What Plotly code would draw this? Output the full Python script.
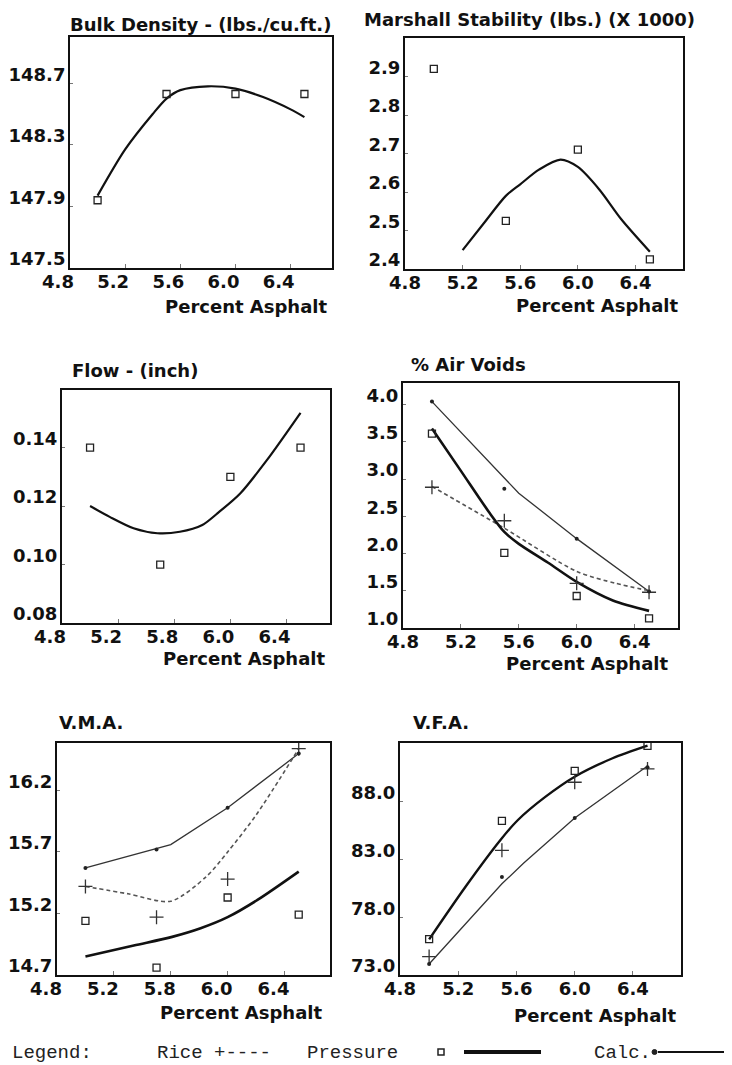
import plotly.graph_objects as go

# The page adds an 8px body margin, so the figure is drawn 8px smaller and
# positions below are given in page pixels, then converted.
OFF = 8
W, H = 732 - OFF, 1065 - OFF


def fx(px):
    return (px - OFF) / W


def fy(py):
    return 1 - (py - OFF) / H


# ---------------- data ----------------
pct = [5.0, 5.5, 6.0, 6.5]

x_ticks = [4.8, 5.2, 5.6, 6.0, 6.4]
x_labels = ["4.8", "5.2", "5.6", "6.0", "6.4"]
x_labels_alt = ["4.8", "5.2", "5.8", "6.0", "6.4"]

# Bulk density
bulk_ticks = [147.5, 147.9, 148.3, 148.7]
bulk_pts = [147.94, 148.63, 148.63, 148.63]
bulk_fit_x = [5.0, 5.2, 5.4, 5.5, 5.6, 5.8, 6.0, 6.2, 6.4, 6.5]
bulk_fit_y = [147.97, 148.27, 148.50, 148.60, 148.655, 148.68, 148.665, 148.61, 148.53, 148.48]

# Marshall stability
stab_ticks = [2.4, 2.5, 2.6, 2.7, 2.8, 2.9]
stab_pts = [2.92, 2.525, 2.71, 2.425]
stab_fit_x = [5.2, 5.35, 5.5, 5.6, 5.73, 5.88, 6.0, 6.15, 6.3, 6.5]
stab_fit_y = [2.449, 2.52, 2.59, 2.62, 2.658, 2.684, 2.665, 2.606, 2.53, 2.445]

# Flow
flow_ticks = [0.08, 0.10, 0.12, 0.14]
flow_labels = ["0.08", "0.10", "0.12", "0.14"]
flow_pts = [0.14, 0.10, 0.13, 0.14]
flow_fit_x = [5.0, 5.14, 5.31, 5.48, 5.64, 5.8, 5.92, 6.07, 6.26, 6.5]
flow_fit_y = [0.120, 0.1163, 0.1124, 0.1107, 0.1112, 0.1135, 0.118, 0.1243, 0.1357, 0.1519]

# Air voids
av_ticks = [1.0, 1.5, 2.0, 2.5, 3.0, 3.5, 4.0]
av_labels = ["1.0", "1.5", "2.0", "2.5", "3.0", "3.5", "4.0"]
av_pressure = [3.61, 2.01, 1.43, 1.13]
av_rice = [2.89, 2.44, 1.60, 1.48]
av_calc = [4.04, 2.87, 2.20, 1.49]
av_pres_fit_x = [5.0, 5.2, 5.4, 5.5, 5.6, 5.8, 6.0, 6.25, 6.5]
av_pres_fit_y = [3.68, 3.11, 2.54, 2.29, 2.13, 1.88, 1.62, 1.37, 1.23]
av_rice_fit_x = [5.0, 5.5, 6.0, 6.27, 6.5]
av_rice_fit_y = [2.90, 2.34, 1.76, 1.60, 1.50]
av_calc_fit_x = [5.0, 5.6, 6.0, 6.5]
av_calc_fit_y = [4.04, 2.81, 2.20, 1.49]

# V.M.A.
vma_ticks = [14.7, 15.2, 15.7, 16.2]
vma_pressure = [15.14, 14.76, 15.33, 15.19]
vma_rice = [15.42, 15.17, 15.48, 16.54]
vma_calc = [15.57, 15.72, 16.06, 16.50]
vma_pres_fit_x = [5.0, 5.34, 5.61, 5.81, 6.0, 6.21, 6.5]
vma_pres_fit_y = [14.85, 14.94, 15.01, 15.08, 15.17, 15.31, 15.54]
vma_rice_fit_x = [5.0, 5.3, 5.6, 5.85, 6.0, 6.2, 6.5]
vma_rice_fit_y = [15.42, 15.36, 15.30, 15.50, 15.70, 16.00, 16.54]
vma_calc_fit_x = [5.0, 5.6, 6.0, 6.5]
vma_calc_fit_y = [15.57, 15.76, 16.06, 16.50]

# V.F.A.
vfa_ticks = [73.0, 78.0, 83.0, 88.0]
vfa_labels = ["73.0", "78.0", "83.0", "88.0"]
vfa_pressure = [76.1, 86.35, 90.68, 92.85]
vfa_rice = [74.6, 83.8, 89.7, 90.85]
vfa_calc = [73.95, 81.5, 86.6, 91.0]
vfa_pres_fit_x = [5.0, 5.25, 5.49, 5.61, 5.8, 6.0, 6.26, 6.5]
vfa_pres_fit_y = [76.09, 80.65, 84.7, 86.43, 88.45, 90.18, 91.78, 92.87]
vfa_calc_fit_x = [5.0, 5.5, 5.65, 6.0, 6.5]
vfa_calc_fit_y = [73.95, 80.9, 82.7, 86.6, 91.1]

titles = ["Bulk Density - (lbs./cu.ft.)", "Marshall Stability (lbs.) (X 1000)",
          "Flow - (inch)", "% Air Voids", "V.M.A.", "V.F.A."]
x_title = "Percent Asphalt"

# ---------------- styling ----------------
BOLD = dict(family="DejaVu Sans", size=18, color="#111", weight="bold")
MONO = dict(family="Liberation Mono", size=19, color="#222")
INK = "#111"

SQ = dict(symbol="square-open", size=7, color="#222", line=dict(width=1.3, color="#222"))
PLUS = dict(symbol="cross-thin-open", size=10, color="#333", line=dict(width=1.3, color="#333"))
DOT = dict(symbol="circle", size=4, color="#222")

# panel pixel boxes (page pixels): (left, right, top, bottom)
panels = [
    dict(box=(70, 332, 37, 268), xr=6.70, yr=[147.5, 149.0], yt=bulk_ticks,
         yl=[f"{v:.1f}" for v in bulk_ticks], xl=x_labels, xshift=-12),
    dict(box=(405, 683, 38, 269), xr=6.73, yr=[2.4, 3.0], yt=stab_ticks,
         yl=[f"{v:.1f}" for v in stab_ticks], xl=x_labels, xshift=0),
    dict(box=(62, 330, 390, 623), xr=6.71, yr=[0.08, 0.1597], yt=flow_ticks,
         yl=flow_labels, xl=x_labels_alt, xshift=-12),
    dict(box=(403, 678, 383, 628), xr=6.70, yr=[1.0, 4.29], yt=av_ticks,
         yl=av_labels, xl=x_labels, xshift=0),
    dict(box=(57, 330, 743, 975), xr=6.72, yr=[14.7, 16.586], yt=vma_ticks,
         yl=[f"{v:.1f}" for v in vma_ticks], xl=x_labels_alt, xshift=-11),
    dict(box=(400, 681, 743, 975), xr=6.73, yr=[73.0, 93.1], yt=vfa_ticks,
         yl=vfa_labels, xl=x_labels, xshift=0),
]

fig = go.Figure()
layout = dict(width=W, height=H, margin=dict(l=0, r=0, t=0, b=0, pad=0),
              paper_bgcolor="white", plot_bgcolor="white", showlegend=False)

for i, p in enumerate(panels):
    n = "" if i == 0 else str(i + 1)
    l, r, t, b = p["box"]
    layout["xaxis" + n] = dict(
        domain=[fx(l), fx(r)], range=[4.8, p["xr"]], anchor="y" + n,
        tickvals=x_ticks, ticktext=p["xl"], showline=True, mirror=True,
        linewidth=2, linecolor=INK, ticks="inside", ticklen=4, tickwidth=1,
        tickcolor="#777", showgrid=False, zeroline=False, tickfont=BOLD,
        ticklabelshift=p["xshift"], ticklabelstandoff=-4, automargin=False)
    layout["yaxis" + n] = dict(
        domain=[fy(b), fy(t)], range=p["yr"], anchor="x" + n,
        tickvals=p["yt"], ticktext=p["yl"], showline=True, mirror=True,
        linewidth=2, linecolor=INK, ticks="inside", ticklen=3, tickwidth=1,
        tickcolor="#777", showgrid=False, zeroline=False, tickfont=BOLD,
        ticklabelshift=-9, ticklabelstandoff=-1, automargin=False)


def ln(x, y, ax, width, color=INK, shape="spline", dash=None):
    fig.add_trace(go.Scatter(x=x, y=y, mode="lines", xaxis="x" + ax, yaxis="y" + ax,
                             line=dict(width=width, color=color, shape=shape,
                                       smoothing=0.8 if shape == "spline" else None,
                                       dash=dash),
                             hoverinfo="skip"))


def mk(x, y, ax, marker):
    fig.add_trace(go.Scatter(x=x, y=y, mode="markers", xaxis="x" + ax, yaxis="y" + ax,
                             marker=marker, hoverinfo="skip"))


RICE_DASH = "4px,3px"

# Panel 1
ln(bulk_fit_x, bulk_fit_y, "", 2.2)
mk(pct, bulk_pts, "", SQ)
# Panel 2
ln(stab_fit_x, stab_fit_y, "2", 2.2)
mk(pct, stab_pts, "2", SQ)
# Panel 3
ln(flow_fit_x, flow_fit_y, "3", 2.2)
mk(pct, flow_pts, "3", SQ)
# Panel 4
ln(av_calc_fit_x, av_calc_fit_y, "4", 1.3, "#333", "linear")
ln(av_rice_fit_x, av_rice_fit_y, "4", 1.6, "#555", "spline", RICE_DASH)
ln(av_pres_fit_x, av_pres_fit_y, "4", 2.6)
mk(pct, av_pressure, "4", SQ)
mk(pct, av_rice, "4", PLUS)
mk(pct, av_calc, "4", DOT)
# Panel 5
ln(vma_calc_fit_x, vma_calc_fit_y, "5", 1.3, "#333", "linear")
ln(vma_rice_fit_x, vma_rice_fit_y, "5", 1.6, "#555", "spline", RICE_DASH)
ln(vma_pres_fit_x, vma_pres_fit_y, "5", 2.6)
mk(pct, vma_pressure, "5", SQ)
mk(pct, vma_rice, "5", PLUS)
mk(pct, vma_calc, "5", DOT)
# Panel 6
ln(vfa_calc_fit_x, vfa_calc_fit_y, "6", 1.3, "#333", "linear")
ln(vfa_pres_fit_x, vfa_pres_fit_y, "6", 2.4)
mk(pct, vfa_pressure, "6", SQ)
mk(pct, vfa_rice, "6", PLUS)
mk(pct, vfa_calc, "6", DOT)

# titles (page pixel positions)
title_pos = [(68, 25), (362, 19), (70, 370), (409, 364), (57, 722), (411, 722)]
xtitle_pos = [(330, 306), (681, 305), (328, 658), (671, 663), (325, 1012), (679, 1015)]
ann = []
for txt, (px, py) in zip(titles, title_pos):
    ann.append(dict(text=txt, x=fx(px), y=fy(py), xref="paper", yref="paper",
                    xanchor="left", yanchor="middle", showarrow=False, font=BOLD))
for px, py in xtitle_pos:
    ann.append(dict(text=x_title, x=fx(px), y=fy(py), xref="paper", yref="paper",
                    xanchor="right", yanchor="middle", showarrow=False, font=BOLD))

# legend row
legend_items = [("Legend:", 10), ("Rice +----", 155), ("Pressure", 305), ("Calc.", 592)]
for txt, px in legend_items:
    ann.append(dict(text=txt, x=fx(px), y=fy(1053), xref="paper", yref="paper",
                    xanchor="left", yanchor="middle", showarrow=False, font=MONO))
layout["annotations"] = ann

LY = 1052
shapes = [
    dict(type="rect", xref="paper", yref="paper", x0=fx(438), x1=fx(444),
         y0=fy(LY + 3), y1=fy(LY - 3), line=dict(color="#222", width=1.5)),
    dict(type="line", xref="paper", yref="paper", x0=fx(464), x1=fx(541),
         y0=fy(LY), y1=fy(LY), line=dict(color="#111", width=4)),
    dict(type="circle", xref="paper", yref="paper", x0=fx(652), x1=fx(657),
         y0=fy(LY + 2.5), y1=fy(LY - 2.5), fillcolor="#222", line=dict(color="#222", width=1)),
    dict(type="line", xref="paper", yref="paper", x0=fx(658), x1=fx(732),
         y0=fy(LY), y1=fy(LY), line=dict(color="#111", width=2)),
]
layout["shapes"] = shapes

fig.update_layout(**layout)
fig.write_html("out.html")
